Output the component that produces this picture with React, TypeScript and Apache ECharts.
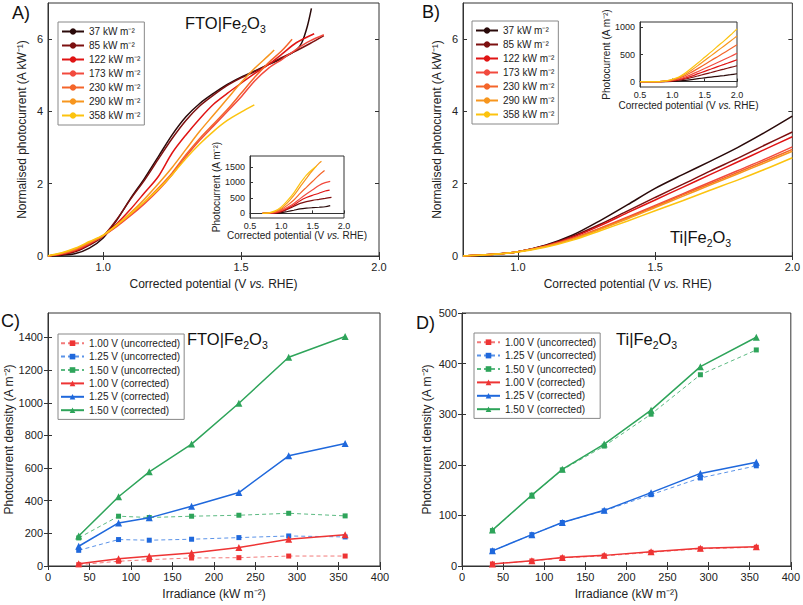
import React, { useEffect, useRef } from "react";
import * as echarts from "echarts";

const FONT = 'Arial, "Liberation Sans", Helvetica, sans-serif';

// ---- Panels A / B: irradiance levels ----
const irradianceNames = [
  "37 kW m⁻²",
  "85 kW m⁻²",
  "122 kW m⁻²",
  "173 kW m⁻²",
  "230 kW m⁻²",
  "290 kW m⁻²",
  "358 kW m⁻²",
];
const curveColors = ["#2a0a0a", "#7d1010", "#e01414", "#f24a3e", "#f4652a", "#f7961e", "#fcc30f"];

// Panel A: FTO|Fe2O3 normalised photocurrent [V, A kW^-1]
const a37 = [[0.8,0],[0.85,0.02],[0.9,0.07],[0.95,0.22],[1.0,0.5],[1.05,1.0],[1.1,1.6],[1.15,2.15],[1.2,2.75],[1.25,3.35],[1.3,3.85],[1.35,4.22],[1.4,4.5],[1.45,4.75],[1.5,4.95],[1.55,5.12],[1.6,5.3],[1.65,5.47],[1.7,5.7],[1.72,5.9],[1.74,6.35],[1.755,6.85]];
const a85 = [[0.8,0],[0.85,0.04],[0.9,0.12],[0.95,0.3],[1.0,0.55],[1.05,1.02],[1.1,1.58],[1.15,2.1],[1.2,2.68],[1.25,3.25],[1.3,3.75],[1.35,4.15],[1.4,4.45],[1.45,4.72],[1.5,4.93],[1.55,5.1],[1.6,5.3],[1.65,5.5],[1.7,5.68],[1.75,5.88],[1.8,6.1]];
const a122 = [[0.8,0],[0.85,0.05],[0.9,0.15],[0.95,0.33],[1.0,0.56],[1.05,0.9],[1.1,1.3],[1.15,1.75],[1.2,2.2],[1.25,2.85],[1.3,3.35],[1.35,3.8],[1.4,4.2],[1.45,4.5],[1.5,4.78],[1.55,5.05],[1.6,5.3],[1.65,5.6],[1.7,5.9],[1.765,6.15]];
const a173 = [[0.8,0],[0.85,0.06],[0.9,0.17],[0.95,0.35],[1.0,0.56],[1.05,0.82],[1.1,1.12],[1.15,1.45],[1.2,1.82],[1.25,2.25],[1.3,2.75],[1.35,3.2],[1.4,3.6],[1.45,4.0],[1.5,4.4],[1.55,4.85],[1.6,5.2],[1.65,5.45],[1.7,5.72],[1.75,5.95],[1.8,6.12]];
const a230 = [[0.8,0],[0.85,0.07],[0.9,0.18],[0.95,0.36],[1.0,0.56],[1.05,0.84],[1.1,1.15],[1.15,1.5],[1.2,1.88],[1.25,2.3],[1.3,2.8],[1.35,3.25],[1.4,3.65],[1.45,4.05],[1.5,4.5],[1.55,4.95],[1.6,5.35],[1.65,5.7],[1.685,6.0]];
const a290 = [[0.8,0],[0.85,0.08],[0.9,0.2],[0.95,0.38],[1.0,0.57],[1.05,0.86],[1.1,1.2],[1.15,1.58],[1.2,2.0],[1.25,2.45],[1.3,2.95],[1.35,3.45],[1.4,3.9],[1.45,4.35],[1.5,4.8],[1.55,5.2],[1.6,5.55],[1.62,5.7]];
const a358 = [[0.8,0.01],[0.85,0.09],[0.9,0.22],[0.95,0.4],[1.0,0.58],[1.05,0.86],[1.1,1.17],[1.15,1.5],[1.2,1.85],[1.25,2.25],[1.3,2.7],[1.35,3.1],[1.4,3.45],[1.45,3.75],[1.5,3.98],[1.548,4.18]];

// Panel A inset: photocurrent [V, A m^-2]
const ai37 = [[0.7,0],[0.8,0],[0.9,3],[1.0,18],[1.1,60],[1.2,100],[1.3,142],[1.4,167],[1.5,183],[1.6,196],[1.7,212],[1.78,250]];
const ai85 = [[0.7,0],[0.8,2],[0.9,10],[1.0,47],[1.1,135],[1.2,228],[1.3,320],[1.4,380],[1.5,420],[1.6,450],[1.7,483],[1.8,518]];
const ai122 = [[0.7,0],[0.8,3],[0.9,18],[1.0,68],[1.1,160],[1.2,270],[1.3,410],[1.4,512],[1.5,585],[1.6,647],[1.7,720],[1.77,750]];
const ai173 = [[0.7,0],[0.8,5],[0.9,30],[1.0,97],[1.1,195],[1.2,315],[1.3,475],[1.4,625],[1.5,760],[1.6,900],[1.7,990],[1.78,1030]];
const ai230 = [[0.7,0],[0.8,8],[0.9,42],[1.0,129],[1.1,265],[1.2,432],[1.3,644],[1.4,840],[1.5,1035],[1.6,1230],[1.69,1380]];
const ai290 = [[0.7,0],[0.8,12],[0.9,58],[1.0,165],[1.1,348],[1.2,580],[1.3,855],[1.4,1130],[1.5,1390],[1.6,1610],[1.64,1680]];
const ai358 = [[0.7,0],[0.8,15],[0.9,79],[1.0,208],[1.1,419],[1.2,662],[1.3,967],[1.4,1235],[1.5,1425],[1.56,1520]];

// Panel B: Ti|Fe2O3 normalised photocurrent [V, A kW^-1]
const b37 = [[0.8,0],[0.9,0.04],[1.0,0.12],[1.1,0.3],[1.2,0.58],[1.3,0.98],[1.4,1.42],[1.5,1.87],[1.6,2.25],[1.7,2.62],[1.8,3.0],[1.9,3.42],[2.0,3.87]];
const b85 = [[0.8,0],[0.9,0.04],[1.0,0.12],[1.1,0.29],[1.2,0.55],[1.3,0.88],[1.4,1.25],[1.5,1.62],[1.6,1.98],[1.7,2.35],[1.8,2.7],[1.9,3.07],[2.0,3.43]];
const b122 = [[0.8,0],[0.9,0.04],[1.0,0.12],[1.1,0.28],[1.2,0.52],[1.3,0.84],[1.4,1.2],[1.5,1.55],[1.6,1.9],[1.7,2.25],[1.8,2.6],[1.9,2.95],[2.0,3.3]];
const b173 = [[0.8,0],[0.9,0.04],[1.0,0.12],[1.1,0.27],[1.2,0.49],[1.3,0.77],[1.4,1.08],[1.5,1.4],[1.6,1.72],[1.7,2.04],[1.8,2.36],[1.9,2.68],[2.0,3.02]];
const b230 = [[0.8,0],[0.9,0.04],[1.0,0.12],[1.1,0.26],[1.2,0.48],[1.3,0.76],[1.4,1.06],[1.5,1.37],[1.6,1.69],[1.7,2.0],[1.8,2.31],[1.9,2.63],[2.0,2.95]];
const b290 = [[0.8,0],[0.9,0.04],[1.0,0.12],[1.1,0.26],[1.2,0.47],[1.3,0.74],[1.4,1.03],[1.5,1.34],[1.6,1.65],[1.7,1.96],[1.8,2.27],[1.9,2.58],[2.0,2.9]];
const b358 = [[0.8,0],[0.9,0.04],[1.0,0.11],[1.1,0.24],[1.2,0.44],[1.3,0.7],[1.4,0.97],[1.5,1.25],[1.6,1.53],[1.7,1.82],[1.8,2.1],[1.9,2.4],[2.0,2.72]];

// Panel B inset: photocurrent [A m^-2] at potentials
const biPotential = [0.5, 0.8, 0.9, 1.0, 1.1, 1.2, 1.3, 1.4, 1.5, 1.6, 1.7, 1.8, 1.9, 2.0];
const bi37 = [0, 0, 1, 4, 11, 21, 36, 53, 69, 83, 97, 111, 127, 145];
const bi85 = [0, 0, 3, 10, 25, 47, 75, 106, 138, 168, 200, 230, 261, 292];
const bi122 = [0, 0, 5, 15, 34, 63, 102, 146, 189, 232, 275, 317, 360, 403];
const bi173 = [0, 0, 7, 21, 47, 85, 133, 187, 242, 298, 353, 408, 464, 522];
const bi230 = [0, 0, 9, 28, 62, 110, 175, 244, 315, 389, 460, 531, 605, 679];
const bi290 = [0, 0, 12, 35, 75, 135, 215, 299, 389, 479, 568, 658, 748, 841];
const bi358 = [0, 0, 14, 43, 86, 158, 251, 347, 448, 548, 652, 752, 859, 974];

// ---- Panels C / D ----
const irradiance = [37, 85, 122, 173, 230, 290, 358];
const seriesNamesCD = [
  "1.00 V (uncorrected)",
  "1.25 V (uncorrected)",
  "1.50 V (uncorrected)",
  "1.00 V (corrected)",
  "1.25 V (corrected)",
  "1.50 V (corrected)",
];
const cdColors = ["#ee3434", "#1f68dc", "#2ea45a"];
const cdDashColors = ["#f27a7a", "#5b93e8", "#5cba82"];

const cUnc100 = [8, 29, 39, 49, 51, 61, 61];
const cUnc125 = [96, 162, 158, 164, 174, 184, 178];
const cUnc150 = [172, 305, 297, 305, 311, 323, 307];
const cCor100 = [14, 45, 59, 80, 113, 164, 192];
const cCor125 = [121, 264, 295, 366, 450, 675, 751];
const cCor150 = [184, 424, 577, 747, 997, 1279, 1406];

const dUnc100 = [4, 10, 16, 20, 27, 34, 37];
const dUnc125 = [30, 62, 86, 109, 141, 174, 198];
const dUnc150 = [70, 140, 190, 237, 300, 378, 427];
const dCor100 = [4, 10.5, 17, 21, 28, 35, 38];
const dCor125 = [30, 62, 86, 110, 145, 183, 205];
const dCor150 = [71, 140, 191, 241, 308, 394, 452];

const AXIS_COLOR = "#333";
const LABEL_COLOR = "#222";

const plainFmt = (v: number) => String(v);
const fmt1 = (v: number) => Number(v).toFixed(1);

function axisBase(fontSize: number) {
  return {
    axisLine: { show: true, lineStyle: { color: AXIS_COLOR, width: 1 } },
    axisTick: { show: true, inside: true, length: 4, lineStyle: { color: AXIS_COLOR } },
    axisLabel: { color: LABEL_COLOR, fontSize, fontFamily: FONT, margin: 5, formatter: plainFmt },
    splitLine: { show: false },
    nameLocation: "middle" as const,
    nameTextStyle: {
      color: LABEL_COLOR,
      fontSize: fontSize + 1,
      fontFamily: FONT,
      rich: { i: { fontStyle: "italic", fontSize: fontSize + 1, fontFamily: FONT, color: LABEL_COLOR } },
    },
  };
}

function withCustom(base: any, values: number[], fmt?: (v: number) => string) {
  return {
    ...base,
    axisTick: { ...base.axisTick, customValues: values },
    axisLabel: { ...base.axisLabel, customValues: values, formatter: fmt || plainFmt },
  };
}

function frameAxis(gridIndex: number, position: string, extra: any) {
  return {
    type: "value",
    gridIndex,
    position,
    axisLine: { show: false },
    axisLabel: { show: false },
    splitLine: { show: false },
    axisTick: { show: true, inside: true, length: 4, lineStyle: { color: AXIS_COLOR }, ...(extra.tick || {}) },
    ...extra.scale,
  };
}

export default function App() {
  const ref = useRef<HTMLDivElement>(null);

  useEffect(() => {
    if (!ref.current) return;
    const chart = echarts.init(ref.current, undefined, { renderer: "svg" });

    const grids = [
      { left: 48, top: 3, width: 331, height: 253 }, // A
      { left: 250, top: 156, width: 94, height: 62 }, // A inset
      { left: 463, top: 3, width: 330, height: 253 }, // B
      { left: 640, top: 22, width: 97, height: 65 }, // B inset
      { left: 48, top: 313, width: 332, height: 253 }, // C
      { left: 462, top: 313, width: 331, height: 253 }, // D
    ].map((g) => ({ ...g, show: true, borderColor: AXIS_COLOR, borderWidth: 1, backgroundColor: "transparent" }));

    const main = axisBase(11);
    const small = axisBase(9);
    const smallTick = { ...small, axisTick: { ...small.axisTick, length: 3 } };

    const xAxis: any[] = [
      {
        ...withCustom(main, [1.0, 1.5, 2.0], fmt1),
        type: "value", gridIndex: 0, min: 0.8, max: 2.0,
        name: "Corrected potential (V {i|vs.} RHE)", nameGap: 22,
      },
      {
        ...smallTick, type: "value", gridIndex: 1, min: 0.5, max: 2.0, interval: 0.5,
        axisLabel: { ...small.axisLabel, formatter: fmt1, margin: 3 },
        name: "Corrected potential (V {i|vs.} RHE)", nameGap: 12,
      },
      {
        ...withCustom(main, [1.0, 1.5, 2.0], fmt1),
        type: "value", gridIndex: 2, min: 0.8, max: 2.0,
        name: "Corrected potential (V {i|vs.} RHE)", nameGap: 22,
      },
      {
        ...smallTick, type: "value", gridIndex: 3, min: 0.5, max: 2.0, interval: 0.5,
        axisLabel: { ...small.axisLabel, formatter: fmt1, margin: 3 },
        name: "Corrected potential (V {i|vs.} RHE)", nameGap: 13,
      },
      {
        ...main, type: "value", gridIndex: 4, min: 0, max: 400, interval: 50,
        name: "Irradiance (kW m⁻²)", nameGap: 22,
      },
      {
        ...main, type: "value", gridIndex: 5, min: 0, max: 400, interval: 50,
        name: "Irradiance (kW m⁻²)", nameGap: 22,
      },
      // frame (top) axes
      frameAxis(0, "top", { scale: { min: 0.8, max: 2.0 }, tick: { customValues: [1.0, 1.5, 2.0] } }),
      frameAxis(2, "top", { scale: { min: 0.8, max: 2.0 }, tick: { customValues: [1.0, 1.5, 2.0] } }),
      frameAxis(4, "top", { scale: { min: 0, max: 400, interval: 50 } }),
      frameAxis(5, "top", { scale: { min: 0, max: 400, interval: 50 } }),
    ];

    const yAxis: any[] = [
      {
        ...withCustom(main, [0, 2, 4, 6]),
        type: "value", gridIndex: 0, min: 0, max: 7,
        name: "Normalised photocurrent (A kW⁻¹)", nameGap: 20,
      },
      {
        ...withCustom(smallTick, [0, 500, 1000, 1500]),
        type: "value", gridIndex: 1, min: -150, max: 1850,
        name: "Photocurrent (A m⁻²)", nameGap: 24,
      },
      {
        ...withCustom(main, [0, 2, 4, 6]),
        type: "value", gridIndex: 2, min: 0, max: 7,
        name: "Normalised photocurrent (A kW⁻¹)", nameGap: 20,
      },
      {
        ...withCustom(smallTick, [0, 500, 1000]),
        type: "value", gridIndex: 3, min: -100, max: 1100,
        name: "Photocurrent (A m⁻²)", nameGap: 21,
      },
      {
        ...withCustom(main, [0, 200, 400, 600, 800, 1000, 1200, 1400]),
        type: "value", gridIndex: 4, min: 0, max: 1550,
        name: "Photocurrent density (A m⁻²)", nameGap: 33,
      },
      {
        ...main, type: "value", gridIndex: 5, min: 0, max: 500, interval: 100,
        name: "Photocurrent density (A m⁻²)", nameGap: 29,
      },
      // frame (right) axes
      frameAxis(0, "right", { scale: { min: 0, max: 7 }, tick: { customValues: [0, 2, 4, 6] } }),
      frameAxis(2, "right", { scale: { min: 0, max: 7 }, tick: { customValues: [0, 2, 4, 6] } }),
      frameAxis(4, "right", { scale: { min: 0, max: 1550 }, tick: { customValues: [0, 200, 400, 600, 800, 1000, 1200, 1400] } }),
      frameAxis(5, "right", { scale: { min: 0, max: 500, interval: 100 } }),
    ];

    const series: any[] = [];
    const aSets = [a37, a85, a122, a173, a230, a290, a358];
    const aiSets = [ai37, ai85, ai122, ai173, ai230, ai290, ai358];
    const bSets = [b37, b85, b122, b173, b230, b290, b358];
    const biSets = [bi37, bi85, bi122, bi173, bi230, bi290, bi358];

    const curve = (name: string, color: string, data: any, xi: number, w: number) => ({
      type: "line",
      name,
      xAxisIndex: xi,
      yAxisIndex: xi,
      data,
      symbol: "none",
      smooth: 0.3,
      clip: true,
      lineStyle: { color, width: w },
      itemStyle: { color },
    });

    irradianceNames.forEach((n, i) => {
      series.push(curve(n, curveColors[i], aSets[i], 0, 1.5));
      series.push(curve(n, curveColors[i], aiSets[i], 1, 1.2));
      series.push(curve(n, curveColors[i], bSets[i], 2, 1.5));
      series.push(
        curve(n, curveColors[i], biPotential.map((v, k) => [v, biSets[i][k]]), 3, 1.2)
      );
    });

    const cSets = [cUnc100, cUnc125, cUnc150, cCor100, cCor125, cCor150];
    const dSets = [dUnc100, dUnc125, dUnc150, dCor100, dCor125, dCor150];
    const cdSeries = (vals: number[], k: number, xi: number) => {
      const corrected = k >= 3;
      const c = cdColors[k % 3];
      return {
        type: "line",
        name: seriesNamesCD[k],
        xAxisIndex: xi,
        yAxisIndex: xi,
        data: irradiance.map((x, j) => [x, vals[j]]),
        symbol: corrected ? "triangle" : "rect",
        symbolSize: corrected ? 7 : 5,
        showSymbol: true,
        lineStyle: corrected
          ? { color: c, width: 1.5 }
          : { color: cdDashColors[k % 3], width: 1, type: [4, 3] },
        itemStyle: { color: c },
        z: corrected ? 3 : 2,
      };
    };
    cSets.forEach((v, k) => series.push(cdSeries(v, k, 4)));
    dSets.forEach((v, k) => series.push(cdSeries(v, k, 5)));

    const legendBase = {
      orient: "vertical" as const,
      backgroundColor: "#fff",
      borderColor: "#888",
      borderWidth: 1,
      borderRadius: 0,
      selectedMode: false,
    };

    const legends = [
      {
        ...legendBase, data: irradianceNames, left: 58, top: 22,
        padding: [3, 4, 3, 3], itemWidth: 22, itemHeight: 8, itemGap: 1,
        textStyle: { fontSize: 10, fontFamily: FONT, color: LABEL_COLOR, lineHeight: 13 },
      },
      {
        ...legendBase, data: irradianceNames, left: 472, top: 21,
        padding: [3, 4, 3, 3], itemWidth: 22, itemHeight: 8, itemGap: 1,
        textStyle: { fontSize: 10, fontFamily: FONT, color: LABEL_COLOR, lineHeight: 13 },
      },
      {
        ...legendBase, data: seriesNamesCD, left: 58, top: 334,
        padding: [3, 4, 3, 2], itemWidth: 23, itemHeight: 7, itemGap: 1,
        textStyle: { fontSize: 10, fontFamily: FONT, color: LABEL_COLOR, lineHeight: 12.4 },
      },
      {
        ...legendBase, data: seriesNamesCD, left: 474, top: 333,
        padding: [3, 4, 3, 2], itemWidth: 23, itemHeight: 7, itemGap: 1,
        textStyle: { fontSize: 10, fontFamily: FONT, color: LABEL_COLOR, lineHeight: 12.4 },
      },
    ];

    const titleRich = {
      s: { fontSize: 10.5, fontFamily: FONT, color: "#111", verticalAlign: "bottom", lineHeight: 10 },
    };
    const titleText = (left: number, top: number, text: string) => ({
      type: "text",
      left,
      top,
      z: 100,
      style: {
        text,
        font: `16.5px ${FONT}`,
        fill: "#111",
        rich: titleRich,
        lineHeight: 22,
      },
    });
    const panelLabel = (left: number, top: number, text: string) => ({
      type: "text",
      left,
      top,
      z: 100,
      style: { text, font: `18px ${FONT}`, fill: "#111" },
    });

    chart.setOption({
      animation: false,
      backgroundColor: "#fff",
      textStyle: { fontFamily: FONT },
      grid: grids,
      xAxis,
      yAxis,
      legend: legends,
      series,
      graphic: [
        panelLabel(12, 4, "A)"),
        panelLabel(422, 3, "B)"),
        panelLabel(1, 312, "C)"),
        panelLabel(416, 314, "D)"),
        titleText(185, 12, "FTO|Fe{s|2}O{s|3}"),
        titleText(670, 226, "Ti|Fe{s|2}O{s|3}"),
        titleText(187, 328, "FTO|Fe{s|2}O{s|3}"),
        titleText(616, 328, "Ti|Fe{s|2}O{s|3}"),
      ],
    });

    return () => chart.dispose();
  }, []);

  return (
    <div
      ref={ref}
      style={{ position: "fixed", left: 0, top: 0, width: 803, height: 605, background: "#fff" }}
    />
  );
}
